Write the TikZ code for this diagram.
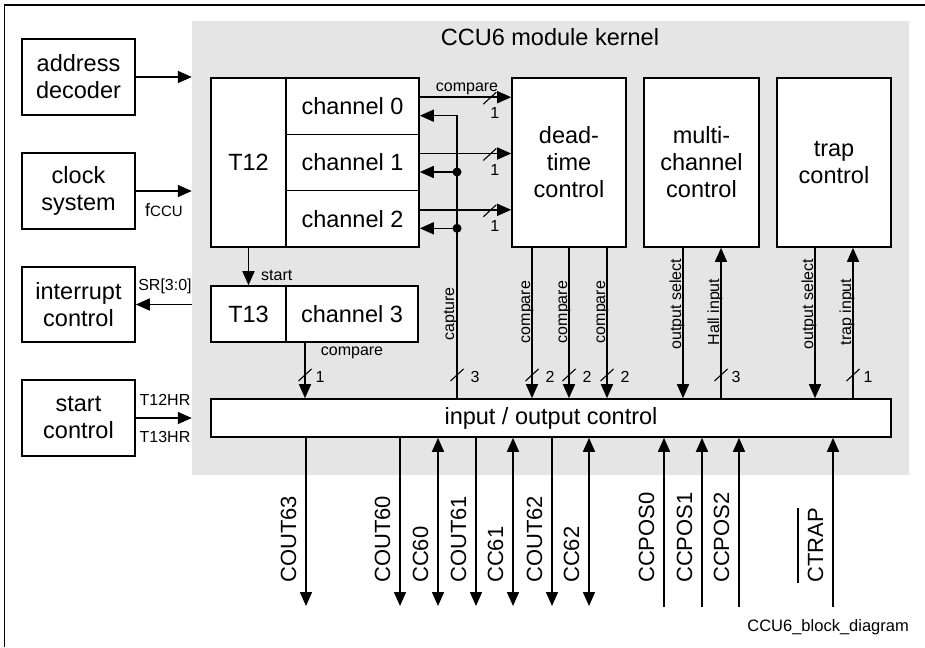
\documentclass[tikz,border=0pt]{standalone}
\usepackage{fontspec}
\setmainfont{Liberation Sans}
\usetikzlibrary{arrows.meta,calc}
\newcommand\fbig{\fontsize{23.5}{27}\selectfont}
\newcommand\fsmall{\fontsize{16}{18}\selectfont}
\newcommand\fsig{\fontsize{22}{24}\selectfont}
\definecolor{kgray}{RGB}{229,229,229}
\begin{document}
\begin{tikzpicture}[x=1pt,y=-1pt,
  box/.style={draw, line width=1.6pt, fill=white, inner sep=0pt, align=center, font=\fbig},
  ln/.style={line width=1.5pt},
  arr/.style={ln, -{Triangle[length=14pt,width=12pt]}},
  arrb/.style={ln, {Triangle[length=14pt,width=12pt]}-{Triangle[length=14pt,width=12pt]}},
  lab/.style={font=\fsmall, inner sep=0pt},
  vlab/.style={font=\fsmall, inner sep=0pt, rotate=90, anchor=base},
  sig/.style={font=\fsig, inner sep=0pt, rotate=90, anchor=base west},
  busmark/.pic={\draw[line width=1.1pt] (-6.5,6) -- (6.5,-6);}
]
\useasboundingbox (0,0) rectangle (925,647);
% frame
\draw[line width=1.5pt] (4.5,647) -- (4.5,5) -- (925,5);
% kernel background
\node[fill=kgray, draw=none, inner sep=0pt, minimum width=717pt, minimum height=454pt] (kernel) at (550.5,248) {};
\node[font=\fbig, anchor=base, inner sep=0pt] (title) at (550,46) {CCU6 module kernel};
% outside boxes
\node[box, minimum width=113pt, minimum height=76pt] (addr) at (78.5,77) {address\\decoder};
\node[box, minimum width=113pt, minimum height=76pt] (clk) at (78.5,191) {clock\\system};
\node[box, minimum width=113pt, minimum height=75pt] (intr) at (78.5,304.5) {interrupt\\control};
\node[box, minimum width=113pt, minimum height=76pt] (stc) at (78.5,418) {start\\control};
% kernel boxes
\node[box, minimum width=75pt, minimum height=169pt] (t12) at (248.5,162.5) {T12};
\node[box, minimum width=133pt, minimum height=56.3pt] (ch0) at (352.5,106.2) {channel 0};
\node[box, minimum width=133pt, minimum height=56.3pt] (ch1) at (352.5,162.5) {channel 1};
\node[box, minimum width=133pt, minimum height=56.3pt] (ch2) at (352.5,218.8) {channel 2};
\node[box, minimum width=114pt, minimum height=169pt] (dead) at (569,162.5) {dead-\\time\\control};
\node[box, minimum width=115pt, minimum height=169pt] (multi) at (701.5,162.5) {multi-\\channel\\control};
\node[box, minimum width=114pt, minimum height=169pt] (trap) at (834,162.5) {trap\\control};
\node[box, minimum width=75pt, minimum height=56pt] (t13) at (248.5,314) {T13};
\node[box, minimum width=132pt, minimum height=56pt] (ch3) at (352,314) {channel 3};
\node[box, minimum width=680pt, minimum height=38pt] (io) at (551,418) {input / output control};
% left connections
\draw[arr] (addr.east) -- (addr.east -| kernel.west);
\draw[arr] (clk.east) -- (clk.east -| kernel.west);
\node[inner sep=0pt, anchor=base west] (fccu) at (145,216) {\fontsize{18}{20}\selectfont f\fontsize{15}{17}\selectfont CCU};
\draw[arr] (intr.east -| kernel.west) -- (intr.east);
\node[lab, anchor=base] (sr) at (165,290) {SR[3:0]};
\draw[arr] (stc.east) -- (stc.east -| kernel.west);
\node[lab, anchor=base] (t12hr) at (165,405) {T12HR};
\node[lab, anchor=base] (t13hr) at (165,442) {T13HR};
% start
\draw[arr] (t12.south) -- (t13.north);
\node[lab, anchor=base west] (startl) at (261,280) {start};
% compare channels 0-2
\foreach \c in {0,1,2} {
  \coordinate (c\c) at ($(ch\c.east)+(0,-9)$);
  \draw[arr] (c\c) -- (c\c -| dead.west);
  \pic at ($(c\c)+(70,1)$) {busmark};
  \node[lab] at ($(c\c)+(75,16)$) {1};
}
\node[lab, anchor=base] (cmp0) at (467,92) {compare};
% capture
\coordinate (capx) at (457,0);
\foreach \c in {0,1,2} \coordinate (r\c) at ($(ch\c.east)+(0,9.5)$);
\draw[arr] (capx |- io.north) -- (capx |- r0) -- (r0);
\draw[arr] (capx |- r1) -- (r1);
\draw[arr] (capx |- r2) -- (r2);
\fill (capx |- r1) circle (4.5pt);
\fill (capx |- r2) circle (4.5pt);
\node[vlab] at (454,314) {capture};
\pic at (457,375) {busmark};
\node[lab] at (475,377) {3};
% channel 3 compare
\coordinate (c3x) at (305,0);
\draw[arr] (c3x |- ch3.south) -- (c3x |- io.north);
\node[lab, anchor=base] (cmp3) at (352,355) {compare};
\pic at (305,375) {busmark};
\node[lab] at (320,377) {1};
% dead-time outputs
\foreach \x [count=\i] in {532,569,607} {
  \coordinate (dc\i) at (\x,0);
  \draw[arr] (dc\i |- dead.south) -- (dc\i |- io.north);
  \node[vlab] at (\x-2,312) {compare};
  \pic at (\x,375) {busmark};
  \node[lab] at (\x+18,377) {2};
}
% multi-channel
\coordinate (m1) at (683,0);
\coordinate (m2) at (721,0);
\draw[arr] (m1 |- multi.south) -- (m1 |- io.north);
\draw[arr] (m2 |- io.north) -- (m2 |- multi.south);
\node[vlab] at (681,304) {output select};
\node[vlab] at (719,312) {Hall input};
\pic at (721,375) {busmark};
\node[lab] at (736,377) {3};
% trap
\coordinate (tr1) at (815,0);
\coordinate (tr2) at (853,0);
\draw[arr] (tr1 |- trap.south) -- (tr1 |- io.north);
\draw[arr] (tr2 |- io.north) -- (tr2 |- trap.south);
\node[vlab] at (813,304) {output select};
\node[vlab] at (851,312) {trap input};
\pic at (853,375) {busmark};
\node[lab] at (868,377) {1};
% bottom pins
\foreach \x/\t in {306/COUT63,400/COUT60,476/COUT61,552/COUT62} {
  \coordinate (b\t) at (\x,606);
  \draw[arr] (b\t |- io.south) -- (b\t);
  \node[sig] at (\x-10,583) {\t};
}
\foreach \x/\t in {438/CC60,513/CC61,589/CC62} {
  \coordinate (b\t) at (\x,606);
  \draw[arrb] (b\t |- io.south) -- (b\t);
  \node[sig] at (\x-10,583) {\t};
}
\foreach \x/\t in {664/CCPOS0,702/CCPOS1,739/CCPOS2} {
  \coordinate (b\t) at (\x,607);
  \draw[arr] (b\t) -- (b\t |- io.south);
  \node[sig] at (\x-10,583) {\t};
}
\coordinate (bCTRAP) at (833,607);
\draw[arr] (bCTRAP) -- (bCTRAP |- io.south);
\node[sig] (lctrap) at (823,583) {\vbox{\hrule height 1.3pt\kern 9pt\hbox{CTRAP}}};
% footer
\node[font=\fontsize{16.5}{18}\selectfont, anchor=base east, inner sep=0pt] (fig) at (909,631) {CCU6\_block\_diagram};
\end{tikzpicture}
\end{document}
